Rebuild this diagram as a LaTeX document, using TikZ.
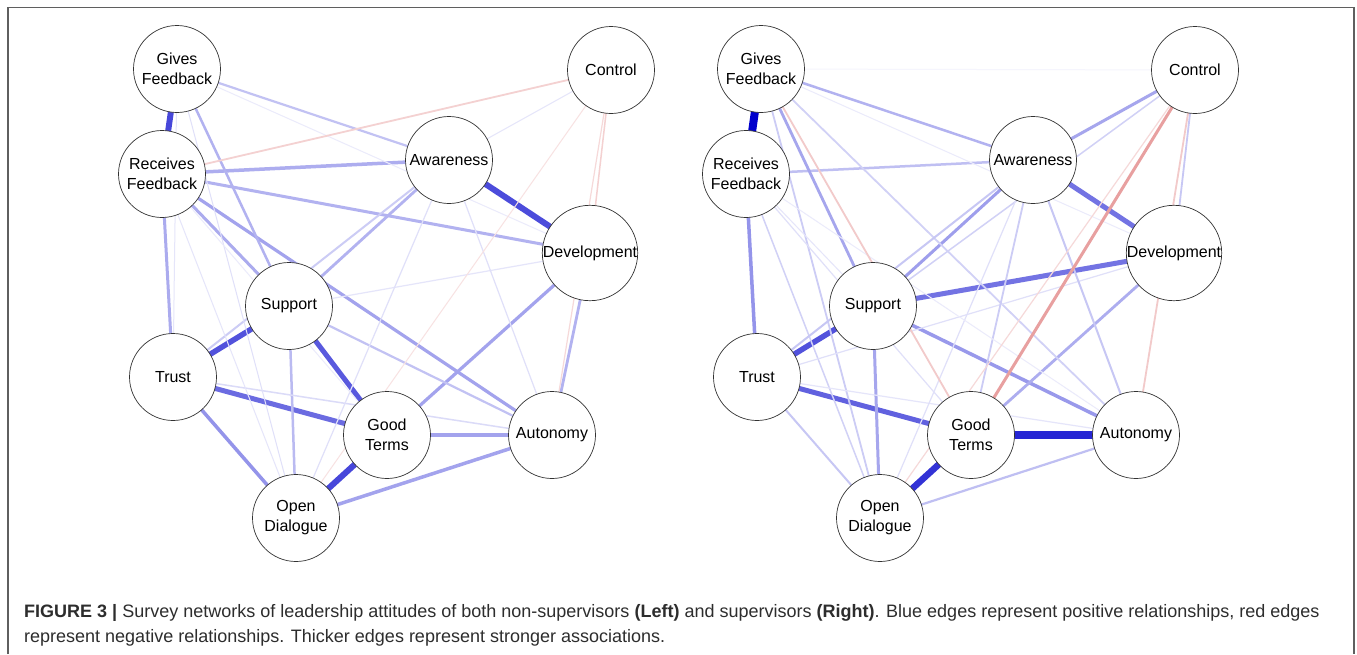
\documentclass[tikz,border=0pt]{standalone}
\usepackage{fontspec}
\setmainfont{Liberation Sans}
\pgfdeclarelayer{backlayer}
\pgfdeclarelayer{edgelayer}
\pgfsetlayers{backlayer,edgelayer,main}
\definecolor{eblue}{RGB}{0,0,204}
\definecolor{ered}{RGB}{205,45,45}
\definecolor{capgray}{RGB}{45,45,45}
\definecolor{framegray}{RGB}{95,95,95}
\definecolor{nodeline}{RGB}{50,50,50}
\newcommand\posedge[4]{\begin{pgfonlayer}{edgelayer}\draw[netedge, line width=#3pt, draw=eblue!#4!white] (#1.center) -- (#2.center);\end{pgfonlayer}}
\newcommand\negedge[4]{\begin{pgfonlayer}{edgelayer}\draw[netedge, line width=#3pt, draw=ered!#4!white] (#1.center) -- (#2.center);\end{pgfonlayer}}
\newcommand\placenet[2]{%
  \node[attr] (#1G) at (177+#2,69)  {Gives\\Feedback};
  \node[attr] (#1C) at (611+#2,70)  {Control};
  \node[attr] (#1R) at (162+#2,174) {Receives\\Feedback};
  \node[attr] (#1A) at (449+#2,160) {Awareness};
  \node[attr] (#1D) at (590+#2,253) {Development};
  \node[attr] (#1S) at (289+#2,306) {Support};
  \node[attr] (#1T) at (173+#2,377) {Trust};
  \node[attr] (#1M) at (387+#2,435) {Good\\Terms};
  \node[attr] (#1U) at (552+#2,435) {Autonomy};
  \node[attr] (#1O) at (296+#2,518) {Open\\Dialogue};
}
\tikzset{
  attr/.style={circle, draw=nodeline, line width=0.7pt, fill=white, minimum size=87pt,
    inner sep=0pt, align=center, text=black, font=\fontsize{16}{20}\selectfont},
  netedge/.style={line cap=butt},
  captext/.style={anchor=base west, inner sep=0pt, text=capgray, font=\fontsize{18}{22}\selectfont}
}
\begin{document}
\begin{tikzpicture}[x=1pt,y=-1pt]
\useasboundingbox (0,0) rectangle (1357,654);
\begin{pgfonlayer}{backlayer}
\fill[white] (0,0) rectangle (1357,654);
\end{pgfonlayer}
\draw[framegray, line width=1.1pt] (8,654) -- (8,7.5) -- (1354,7.5) -- (1354,654);

\placenet{l}{0}
\placenet{r}{584}

% ---------- left network (non-supervisors)
\posedge{lG}{lR}{6}{72}
\posedge{lA}{lD}{6}{70}
\posedge{lT}{lS}{5.5}{68}
\posedge{lS}{lM}{5}{65}
\posedge{lT}{lM}{5}{58}
\posedge{lM}{lO}{6}{72}
\posedge{lR}{lA}{3.5}{32}
\posedge{lR}{lD}{3}{30}
\posedge{lR}{lS}{3}{33}
\posedge{lR}{lU}{3.2}{36}
\posedge{lR}{lT}{3}{33}
\posedge{lG}{lA}{2.2}{24}
\posedge{lG}{lS}{2.5}{30}
\posedge{lA}{lS}{2.8}{30}
\posedge{lD}{lM}{3.2}{36}
\posedge{lD}{lU}{2.8}{30}
\posedge{lM}{lU}{3.5}{36}
\posedge{lO}{lU}{3.5}{36}
\posedge{lT}{lO}{3.5}{42}
\posedge{lS}{lO}{2.5}{27}
\posedge{lS}{lU}{2.2}{24}
\posedge{lT}{lU}{1.5}{14}
\posedge{lT}{lA}{2}{20}
\posedge{lG}{lD}{1}{8}
\posedge{lC}{lA}{1}{10}
\posedge{lD}{lS}{1.2}{10}
\posedge{lA}{lO}{1.2}{12}
\posedge{lA}{lU}{1.2}{12}
\posedge{lR}{lO}{1}{10}
\posedge{lG}{lO}{1}{12}
\posedge{lR}{lM}{1}{8}
\posedge{lG}{lT}{1}{10}
\negedge{lC}{lR}{1.8}{22}
\negedge{lC}{lD}{1.5}{22}
\negedge{lC}{lU}{1.2}{18}
\negedge{lC}{lO}{1}{14}

% ---------- right network (supervisors)
\posedge{rG}{rR}{8}{100}
\posedge{rM}{rU}{8}{85}
\posedge{rM}{rO}{6.5}{80}
\posedge{rT}{rS}{5.5}{68}
\posedge{rT}{rM}{5}{62}
\posedge{rS}{rD}{5}{55}
\posedge{rA}{rD}{5}{55}
\posedge{rR}{rT}{3.5}{42}
\posedge{rG}{rA}{2.5}{30}
\posedge{rR}{rA}{2.5}{25}
\posedge{rA}{rC}{3}{35}
\posedge{rS}{rC}{1.5}{18}
\posedge{rA}{rS}{3}{38}
\posedge{rS}{rU}{3.5}{40}
\posedge{rS}{rO}{3}{35}
\posedge{rD}{rM}{2.8}{32}
\posedge{rC}{rD}{1.8}{22}
\posedge{rG}{rS}{2.8}{35}
\posedge{rG}{rO}{1.8}{20}
\posedge{rG}{rU}{1.8}{18}
\posedge{rG}{rC}{1}{4}
\posedge{rG}{rD}{1}{8}
\posedge{rR}{rO}{1.5}{18}
\posedge{rR}{rM}{1.2}{12}
\posedge{rR}{rS}{1}{10}
\posedge{rT}{rA}{2}{22}
\posedge{rT}{rU}{1.2}{10}
\posedge{rT}{rD}{1.2}{12}
\posedge{rT}{rO}{2}{22}
\posedge{rO}{rU}{2.2}{25}
\posedge{rA}{rO}{1.2}{12}
\posedge{rA}{rM}{1.8}{20}
\posedge{rA}{rU}{2}{22}
\posedge{rR}{rU}{1}{8}
\negedge{rC}{rM}{3}{45}
\negedge{rC}{rO}{1.2}{18}
\negedge{rC}{rU}{1.8}{25}
\negedge{rG}{rM}{1.8}{25}

% ---------- caption
\node[captext] (cap1) at (24,617) {\textbf{FIGURE 3 |} Survey networks of leadership attitudes of both non-supervisors \textbf{(Left)} and supervisors \textbf{(Right)}. Blue edges represent positive relationships, red edges};
\node[captext] (cap2) at (24,642) {represent negative relationships. Thicker edges represent stronger associations.};
\end{tikzpicture}
\end{document}
